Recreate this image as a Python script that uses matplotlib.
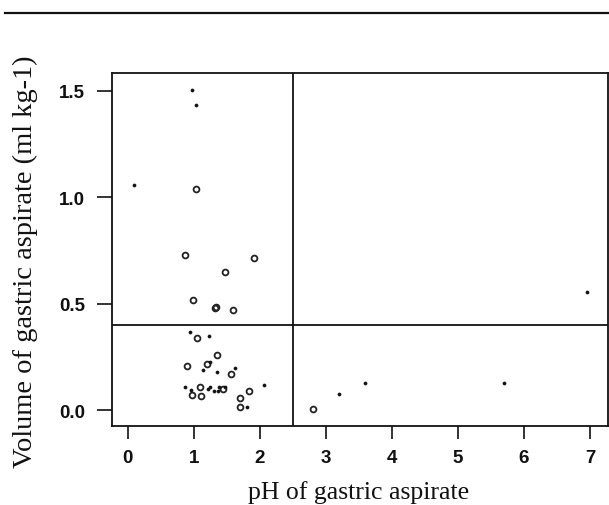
import matplotlib
matplotlib.use("Agg")
import matplotlib.pyplot as plt
from matplotlib.lines import Line2D

# Open-circle observations (pH, volume ml/kg)
circle_ph = [1.03, 0.868, 1.917, 1.473, 0.993, 1.327, 1.33, 1.594,
             1.045, 1.352, 0.90, 1.205, 1.57, 0.98, 1.095, 1.105,
             1.45, 1.84, 1.70, 1.70, 2.81]
circle_vol = [1.038, 0.728, 0.715, 0.648, 0.518, 0.48, 0.482, 0.471,
              0.338, 0.26, 0.207, 0.218, 0.168, 0.072, 0.107, 0.066,
              0.097, 0.088, 0.056, 0.016, 0.006]

# Small-dot observations (pH, volume ml/kg)
dot_ph = [0.969, 1.03, 0.095, 0.943, 1.226, 1.25, 1.14, 1.352, 1.63,
          2.07, 0.863, 0.954, 1.24, 1.22, 1.30, 1.38, 1.37, 1.48, 1.81,
          3.20, 3.59, 5.70, 6.954]
dot_vol = [1.504, 1.434, 1.058, 0.368, 0.349, 0.227, 0.186, 0.178, 0.197,
           0.117, 0.11, 0.095, 0.108, 0.10, 0.088, 0.108, 0.088, 0.108, 0.016,
           0.077, 0.128, 0.128, 0.556]

x_ticks = [0, 1, 2, 3, 4, 5, 6, 7]
y_ticks = [0.0, 0.5, 1.0, 1.5]
y_tick_labels = ["0.0", "0.5", "1.0", "1.5"]
ph_cut = 2.5
vol_cut = 0.4

W, H = 609, 506
fig = plt.figure(figsize=(W / 100, H / 100), dpi=100)
ax = fig.add_axes([111.7 / W, 1 - 426.7 / H, (608 - 111.7) / W, (426.7 - 73.5) / H])

ax.plot(circle_ph, circle_vol, linestyle="none", marker="o", ms=4.2,
        mfc="none", mec="#222222", mew=1.3)
ax.plot(dot_ph, dot_vol, linestyle="none", marker="o", ms=2.2,
        mfc="#111111", mec="#111111", mew=0.5)

ax.axvline(ph_cut, color="#111111", lw=1.3)
ax.axhline(vol_cut, color="#111111", lw=1.3)

ax.set_xlim(-0.242, 7.272)
ax.set_ylim(-0.0737, 1.585)
ax.set_xticks(x_ticks)
ax.set_yticks(y_ticks)
ax.set_yticklabels(y_tick_labels)

for s in ax.spines.values():
    s.set_linewidth(1.3)
    s.set_color("#111111")

ax.tick_params(axis="both", direction="out", width=1.2,
               colors="#111111", labelsize=13.5)
ax.tick_params(axis="x", length=9, pad=8)
ax.tick_params(axis="y", length=10.5, pad=8.5)
for lab in ax.get_xticklabels() + ax.get_yticklabels():
    lab.set_fontfamily("Liberation Sans")
    lab.set_fontweight("bold")
    lab.set_color("#111111")

fig.text(359 / W, 1 - 499 / H, "pH of gastric aspirate", ha="center", va="baseline",
         family="Liberation Serif", fontsize=18.5, color="#111111")
fig.text(25.5 / W, 1 - 262 / H, "Volume of gastric aspirate (ml kg-1)", ha="center",
         va="center", rotation=90, family="Liberation Serif", fontsize=20.5,
         color="#111111")

fig.add_artist(Line2D([5 / W, 1.0], [1 - 13.6 / H, 1 - 13.6 / H],
                      transform=fig.transFigure, color="#111111", lw=1.6))

fig.savefig("out.png", dpi=100)
